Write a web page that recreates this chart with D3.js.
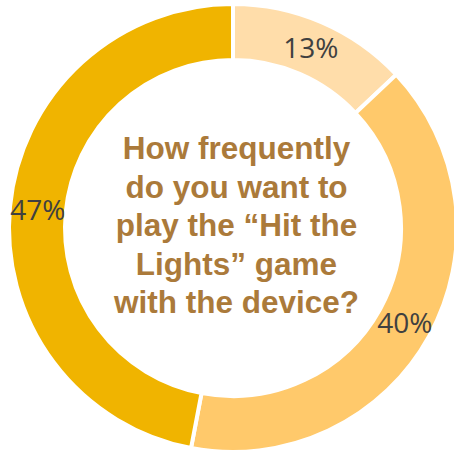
<!DOCTYPE html>
<meta charset="utf-8">
<style>
body { margin: 0; background: #fff; }
svg { display: block; }
.label { font-family: "Open Sans", sans-serif; font-size: 28px; fill: #404040; }
.question { font-family: "Liberation Sans", Arial, sans-serif; font-weight: bold; font-size: 31.5px; fill: #AB7A3A; }
</style>
<body>
<script src="https://d3js.org/d3.v7.min.js"></script>
<script>

// answer shares, clockwise from 12 o'clock
var categories = ["Rarely", "Sometimes", "Often"];
var shares = [13, 40, 47];
var colors = ["#FFDDAA", "#FFC96B", "#F0B400"];
var questionLines = ["How frequently", "do you want to", "play the \u201cHit the", "Lights\u201d game", "with the device?"];

var width = 454, height = 455,
    cx = 233, cy = 228,
    outer = 224, inner = 168;

var svg = d3.select("body").append("svg")
    .attr("width", width)
    .attr("height", height)
  .append("g")
    .attr("transform", "translate(" + cx + "," + cy + ")");

var pie = d3.pie().sort(null).value(function(d) { return d; });
var arc = d3.arc().innerRadius(inner).outerRadius(outer);
var labelArc = d3.arc().innerRadius(196).outerRadius(196);

var slices = pie(shares);

svg.selectAll("path.slice")
    .data(slices)
  .enter().append("path")
    .attr("class", "slice")
    .attr("d", arc)
    .attr("fill", function(d, i) { return colors[i]; })
    .attr("stroke", "#fff")
    .attr("stroke-width", 4);

svg.selectAll("text.label")
    .data(slices)
  .enter().append("text")
    .attr("class", "label")
    .attr("transform", function(d) { return "translate(" + labelArc.centroid(d) + ")"; })
    .attr("text-anchor", "middle")
    .attr("dy", "0.36em")
    .text(function(d) { return d.value + "%"; });

// question in the hole
var lineGap = 38.5;
svg.append("text")
    .attr("class", "question")
    .attr("text-anchor", "middle")
  .selectAll("tspan")
    .data(questionLines)
  .enter().append("tspan")
    .attr("x", 3.5)
    .attr("y", function(d, i) { return (i - 2) * lineGap + 8; })
    .text(function(d) { return d; });

</script>
</body>
